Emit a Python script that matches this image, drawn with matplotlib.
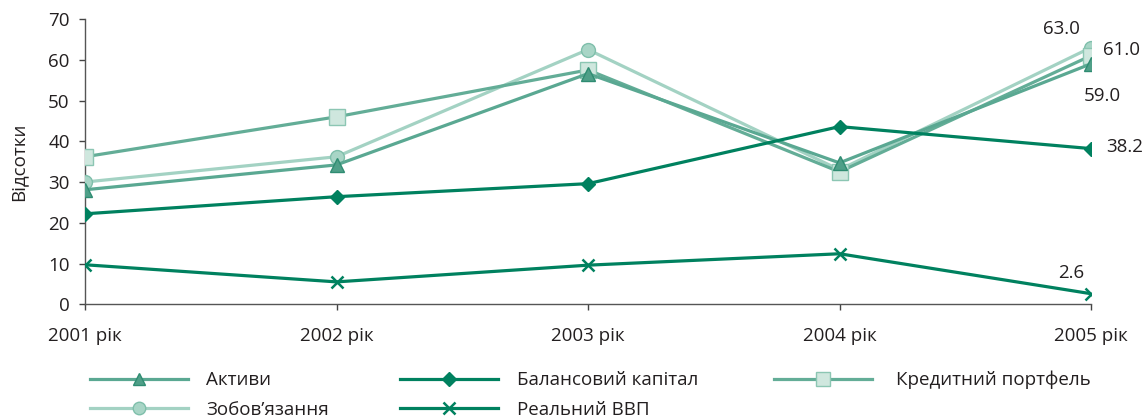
import matplotlib
matplotlib.use("Agg")
import matplotlib.pyplot as plt

plt.rcParams['font.family'] = ['Open Sans', 'DejaVu Sans']

years = ["2001 рік", "2002 рік", "2003 рік", "2004 рік", "2005 рік"]
aktyvy = [28.1, 34.2, 56.6, 34.7, 59.0]
zobovyazannya = [30.0, 36.2, 62.5, 33.0, 63.0]
kredytnyi = [36.2, 46.0, 57.5, 32.5, 61.0]
kapital = [22.2, 26.4, 29.6, 43.6, 38.2]
vvp = [9.7, 5.5, 9.6, 12.4, 2.6]

W, H = 1146, 417
fig = plt.figure(figsize=(W / 100, H / 100), dpi=100)
ax = fig.add_axes([85 / W, 1 - 304.3 / H, (1091 - 85) / W, (304.3 - 19) / H])
x = list(range(len(years)))

lw = 2.3
tc = "#231f20"
fs = 13.5

h_zob, = ax.plot(x, zobovyazannya, color="#a3d2c3", lw=lw, marker="o", ms=10,
                 mfc="#a8d5c6", mec="#7fbfab", mew=1.0, zorder=3)
h_kred, = ax.plot(x, kredytnyi, color="#63ad97", lw=lw, marker="s", ms=11,
                  mfc="#cfe7de", mec="#8cc6b3", mew=1.0, zorder=3)
h_akt, = ax.plot(x, aktyvy, color="#5aa892", lw=lw, marker="^", ms=10,
                 mfc="#4f9f88", mec="#2f8c72", mew=1.0, zorder=4)
h_kap, = ax.plot(x, kapital, color="#00815f", lw=lw, marker="D", ms=7.5,
                 mfc="#00815f", mec="#00815f", zorder=4)
h_vvp, = ax.plot(x, vvp, color="#00815f", lw=lw, marker="x", ms=9, mew=1.8,
                 mec="#00815f", zorder=4)

ax.set_xlim(0, 4)
ax.set_ylim(0, 70)
ax.set_yticks(range(0, 71, 10))
ax.set_xticks(x)
ax.set_xticklabels(years)
ax.tick_params(axis="y", labelsize=fs, length=4, width=1, direction="out",
               color="#444444", labelcolor=tc, pad=7)
ax.tick_params(axis="x", labelsize=fs, length=4.5, width=1, direction="out",
               color="#444444", labelcolor=tc, pad=11.5)
ax.set_ylabel("Відсотки", fontsize=fs, color=tc)
ax.yaxis.set_label_coords(-(85 - 27) / (1091 - 85), 0.5)
for s in ("top", "right"):
    ax.spines[s].set_visible(False)
for s in ("left", "bottom"):
    ax.spines[s].set_color("#555555")
    ax.spines[s].set_linewidth(1.0)

def note(val, dx, dy, ha):
    ax.annotate(f"{val:.1f}", (4, val), xytext=(dx, dy), textcoords="offset points",
                fontsize=fs, color=tc, ha=ha, va="center", annotation_clip=False)

note(zobovyazannya[4], -21, 13, "center")
note(kredytnyi[4], 8.5, 4.3, "left")
note(aktyvy[4], 8, -23.5, "center")
note(kapital[4], 11, 1, "left")
note(vvp[4], -14.4, 15, "center")

# legend laid out as three columns
leg_kw = dict(frameon=False, fontsize=fs, labelcolor=tc, handlelength=5.2,
              borderpad=0, borderaxespad=0, labelspacing=0.62, markerscale=0.9)
l1 = fig.legend([h_akt, h_zob], ["Активи", "Зобов’язання"], loc="center left",
                bbox_to_anchor=(90 / W, 1 - 395 / H), handletextpad=1.0, **leg_kw)
l2 = fig.legend([h_kap, h_vvp], ["Балансовий капітал", "Реальний ВВП"], loc="center left",
                bbox_to_anchor=(400 / W, 1 - 395 / H), handletextpad=1.05, **leg_kw)
l3 = fig.legend([h_kred], ["Кредитний портфель"], loc="center left",
                bbox_to_anchor=(774 / W, 1 - 380 / H), handletextpad=1.3, **leg_kw)

fig.savefig("out.png", dpi=100)
